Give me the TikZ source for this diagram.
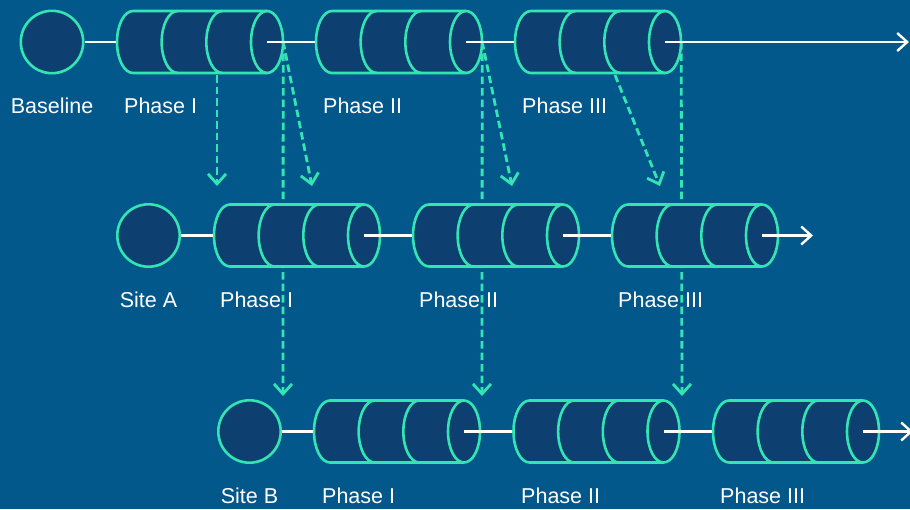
\documentclass[tikz,border=0pt]{standalone}
\usepackage{fontspec}
\setmainfont{Liberation Sans}
\usetikzlibrary{arrows.meta}
\pgfdeclarelayer{back}
\pgfsetlayers{back,main}
\definecolor{bgblue}{RGB}{3,88,139}
\definecolor{navy}{RGB}{13,63,113}
\definecolor{mint}{RGB}{50,229,179}
\tikzset{
  cylbody/.style={draw=mint, fill=navy, line width=2.6pt, line join=round},
  cylline/.style={draw=mint, line width=2.6pt},
  hub/.style={circle, draw=mint, fill=navy, line width=2.6pt, minimum size=62.4pt, inner sep=0pt},
  cylbox/.style={rectangle, inner sep=0pt, minimum width=167pt, minimum height=64pt},
  link/.style={draw=white, line width=2.4pt},
  linkarrow/.style={link, -{Straight Barb[length=10pt,width=18pt]}},
  flow/.style={draw=mint, line width=2.8pt, dash pattern=on 7.5pt off 4pt, -{Straight Barb[length=10pt,width=18pt]}},
  lbl/.style={text=white, font=\fontsize{21.5pt}{24pt}\selectfont, inner sep=0pt},
}
\newcommand\phasecyl[3]{%
  \pgfmathsetmacro\cxa{#2+17}%
  \pgfmathsetmacro\cxb{#2+17+134/3}%
  \pgfmathsetmacro\cxc{#2+17+268/3}%
  \pgfmathsetmacro\cxd{#2+151}%
  \pgfmathsetmacro\cyt{#3-31}%
  \pgfmathsetmacro\cyb{#3+31}%
  \node[cylbox] (#1) at ({#2+83.5},#3) {};
  \coordinate (#1c) at (\cxd,#3);
  \path[cylbody] (\cxa,\cyt) -- (\cxd,\cyt) arc[start angle=90,end angle=-90,x radius=16pt,y radius=31pt] -- (\cxa,\cyb) arc[start angle=270,end angle=90,x radius=16pt,y radius=31pt] -- cycle;
  \draw[cylline] (\cxb,\cyt) arc[start angle=90,end angle=270,x radius=16pt,y radius=31pt];
  \draw[cylline] (\cxc,\cyt) arc[start angle=90,end angle=270,x radius=16pt,y radius=31pt];
  \draw[cylline] (\cxd,\cyt) arc[start angle=90,end angle=270,x radius=16pt,y radius=31pt];
}
\begin{document}
\begin{tikzpicture}[x=1pt,y=-1pt]
\useasboundingbox (0,0) rectangle (910,509);
\clip (0,0) rectangle (910,509);

% hubs
\node[hub] (base) at (52,42) {};
\node[hub] (siteA) at (148.5,235.5) {};
\node[hub] (siteB) at (249.5,431.5) {};

% cylinders
\phasecyl{r1p1}{116}{42}
\phasecyl{r1p2}{315}{42}
\phasecyl{r1p3}{514}{42}
\phasecyl{r2p1}{213}{235.5}
\phasecyl{r2p2}{412}{235.5}
\phasecyl{r2p3}{611}{235.5}
\phasecyl{r3p1}{313}{431.5}
\phasecyl{r3p2}{512.5}{431.5}
\phasecyl{r3p3}{712}{431.5}

% free ends
\coordinate (r1end) at (909,42);
\coordinate (r2end) at (813,235.5);
\coordinate (r3end) at (913,431.5);
\coordinate (r1p1foot) at (217,75);
\coordinate (r1p3foot) at (615,75);
\coordinate (t1) at (217,186);
\coordinate (t2) at (312,186);
\coordinate (t3) at (512,186);
\coordinate (t4) at (660,186);
\coordinate (u1) at (283,396);
\coordinate (u2) at (482,396);
\coordinate (u3) at (682,396);

% white links
\draw[link] (base) -- (r1p1.west);
\draw[link] (r1p1c) -- (r1p2.west);
\draw[link] (r1p2c) -- (r1p3.west);
\draw[linkarrow] (r1p3c) -- (r1end);
\draw[link] (siteA) -- (r2p1.west);
\draw[link] (r2p1c) -- (r2p2.west);
\draw[link] (r2p2c) -- (r2p3.west);
\draw[linkarrow] (r2p3c) -- (r2end);
\draw[link] (siteB) -- (r3p1.west);
\draw[link] (r3p1c) -- (r3p2.west);
\draw[link] (r3p2c) -- (r3p3.west);
\draw[linkarrow] (r3p3c) -- (r3end);

% labels
\node[lbl, anchor=base] (lbase) at (52,113) {Baseline};
\node[lbl, anchor=base west] (l11) at (124,113) {Phase I};
\node[lbl, anchor=base west] (l12) at (323,113) {Phase II};
\node[lbl, anchor=base west] (l13) at (522,113) {Phase III};
\node[lbl, anchor=base] (lsa) at (148.5,307.5) {Site A};
\node[lbl, anchor=base west] (l21) at (220,307.5) {Phase I};
\node[lbl, anchor=base west] (l22) at (419,307.5) {Phase II};
\node[lbl, anchor=base west] (l23) at (618,307.5) {Phase III};
\node[lbl, anchor=base] (lsb) at (249.5,503) {Site B};
\node[lbl, anchor=base west] (l31) at (322,503) {Phase I};
\node[lbl, anchor=base west] (l32) at (521,503) {Phase II};
\node[lbl, anchor=base west] (l33) at (720,503) {Phase III};

% background layer: fill and dashed flows
\begin{pgfonlayer}{back}
\fill[bgblue] (0,0) rectangle (910,509);
\draw[flow] (r1p1foot) -- (t1);
\draw[flow] (r1p1.east) -- (t2);
\draw[flow] (r1p1.east) -- (u1);
\draw[flow] (r1p2.east) -- (t3);
\draw[flow] (r1p2.east) -- (u2);
\draw[flow] (r1p3foot) -- (t4);
\draw[flow] (r1p3.east) -- (u3);
\end{pgfonlayer}
\end{tikzpicture}
\end{document}
